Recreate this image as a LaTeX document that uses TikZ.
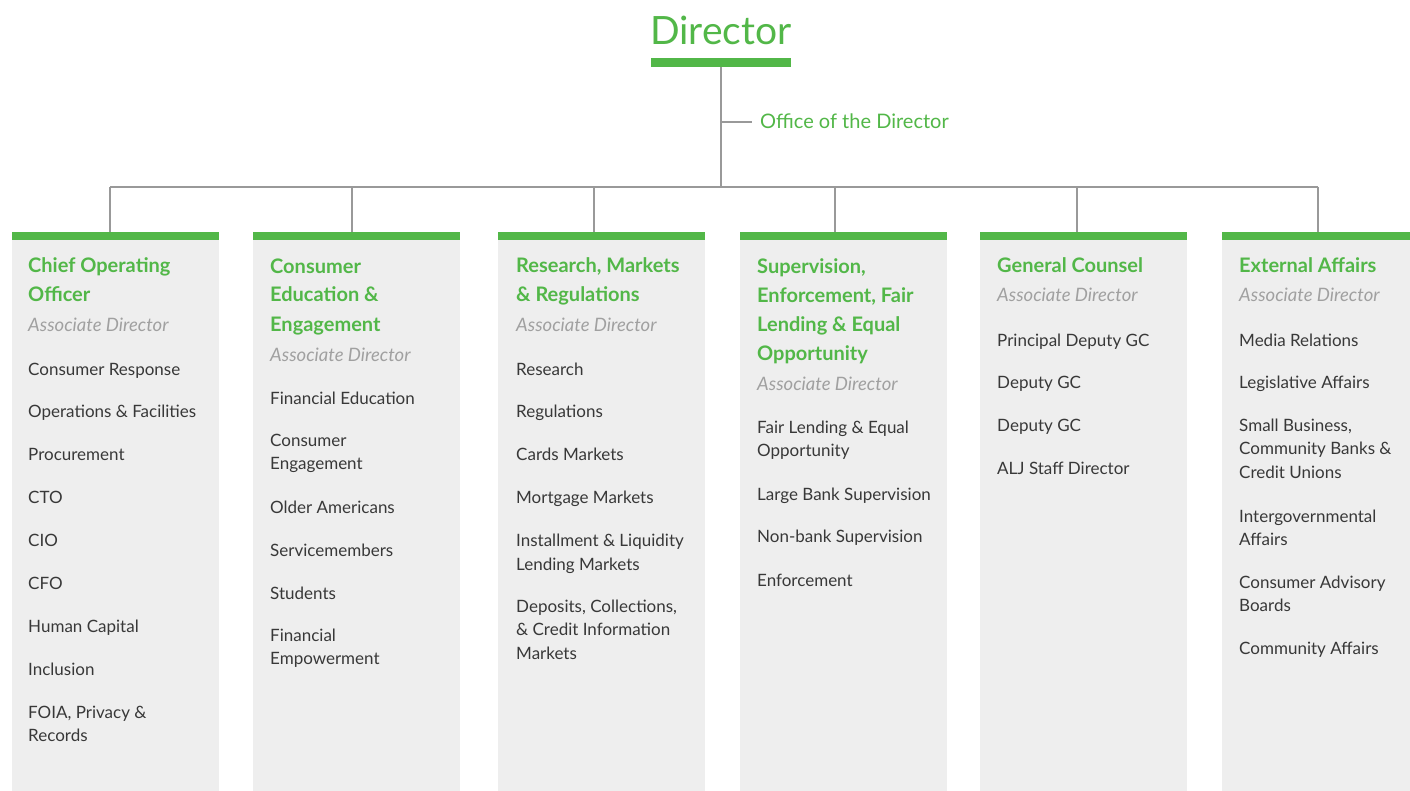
\documentclass[tikz,border=0pt]{standalone}
\usepackage{fontspec}
\setmainfont{Lato}
\definecolor{cfgreen}{HTML}{52B748}
\definecolor{panel}{HTML}{EEEEEE}
\definecolor{wire}{HTML}{999999}
\definecolor{itemtext}{HTML}{383838}
\definecolor{subtext}{HTML}{A0A0A0}
\tikzset{
  conn/.style={draw=wire, line width=1.4pt},
  colbox/.style={fill=panel, draw=none, inner sep=0pt, anchor=north west,
                 minimum width=207pt, minimum height=559pt},
  % multi-line nodes are placed by the baseline of their last line
  headtxt/.style={anchor=base west, inner sep=0pt, align=left, text=cfgreen,
                  font=\fontsize{20}{29}\selectfont\bfseries},
  subtxt/.style={anchor=base west, inner sep=0pt, text=subtext,
                 font=\fontsize{18.5}{23}\selectfont\itshape},
  itemtxt/.style={anchor=base west, inner sep=0pt, align=left, text=itemtext,
                  font=\fontsize{17}{23.5}\selectfont},
}
\begin{document}
\begin{tikzpicture}[x=1pt, y=-1pt]
\useasboundingbox (0,0) rectangle (1410,791);
\fill[white] (0,0) rectangle (1410,791);

% director heading and bar
\node[anchor=base, inner sep=0pt, text=cfgreen, font=\fontsize{39}{39}\selectfont] (dir) at (721,45) {Director};
\node[fill=cfgreen, inner sep=0pt, minimum width=140pt, minimum height=9pt, anchor=north] (dirbar) at (721,58) {};

% column panels
\node[colbox] (col1) at (12,232) {};
\node[colbox] (col2) at (253,232) {};
\node[colbox] (col3) at (498,232) {};
\node[colbox] (col4) at (740,232) {};
\node[colbox] (col5) at (980,232) {};
\node[colbox, minimum width=210pt] (col6) at (1222,232) {};
\foreach \c in {col1,col2,col3,col4,col5,col6}{
  \fill[cfgreen] (\c.north west) rectangle (\c.north east |- 0,240);
}

% connectors
\coordinate (hub) at (721,187);
\coordinate (j1) at (110,187);
\coordinate (j2) at (352,187);
\coordinate (j3) at (594,187);
\coordinate (j4) at (835,187);
\coordinate (j5) at (1077,187);
\coordinate (j6) at (1318,187);
\coordinate (tap) at (721,122);
\coordinate (tapend) at (752,122);
\node[anchor=base west, inner sep=0pt, text=cfgreen, font=\fontsize{20}{24}\selectfont] (office) at (760,129) {Office of the Director};
\draw[conn] (dirbar.south) -- (hub);
\draw[conn] (tap) -- (tapend);
\draw[conn] (j1) -- (j6);
\draw[conn] (j1) -- (j1 |- col1.north);
\draw[conn] (j2) -- (j2 |- col2.north);
\draw[conn] (j3) -- (j3 |- col3.north);
\draw[conn] (j4) -- (j4 |- col4.north);
\draw[conn] (j5) -- (j5 |- col5.north);
\draw[conn] (j6) -- (j6 |- col6.north);

% column 1
\node[headtxt] (h1) at (28,302) {Chief Operating\\Officer};
\node[subtxt] (s1) at (28,332) {Associate Director};
\node[itemtxt] (a1) at (28,375) {Consumer Response};
\node[itemtxt] (a2) at (28,417) {Operations \& Facilities};
\node[itemtxt] (a3) at (28,460) {Procurement};
\node[itemtxt] (a4) at (28,503) {CTO};
\node[itemtxt] (a5) at (28,546) {CIO};
\node[itemtxt] (a6) at (28,589) {CFO};
\node[itemtxt] (a7) at (28,632) {Human Capital};
\node[itemtxt] (a8) at (28,675) {Inclusion};
\node[itemtxt] (a9) at (28,741.5) {FOIA, Privacy \&\\Records};

% column 2
\node[headtxt] (h2) at (270,331) {Consumer\\Education \&\\Engagement};
\node[subtxt] (s2) at (270,361) {Associate Director};
\node[itemtxt] (b1) at (270,404) {Financial Education};
\node[itemtxt] (b2) at (270,469.5) {Consumer\\Engagement};
\node[itemtxt] (b3) at (270,513) {Older Americans};
\node[itemtxt] (b4) at (270,556) {Servicemembers};
\node[itemtxt] (b5) at (270,599) {Students};
\node[itemtxt] (b6) at (270,664.5) {Financial\\Empowerment};

% column 3
\node[headtxt] (h3) at (516,302) {Research, Markets\\\& Regulations};
\node[subtxt] (s3) at (516,332) {Associate Director};
\node[itemtxt] (d1) at (516,375) {Research};
\node[itemtxt] (d2) at (516,417) {Regulations};
\node[itemtxt] (d3) at (516,460) {Cards Markets};
\node[itemtxt] (d4) at (516,503) {Mortgage Markets};
\node[itemtxt] (d5) at (516,570) {Installment \& Liquidity\\Lending Markets};
\node[itemtxt] (d6) at (516,659) {Deposits, Collections,\\\& Credit Information\\Markets};

% column 4
\node[headtxt] (h4) at (757,360) {Supervision,\\Enforcement, Fair\\Lending \& Equal\\Opportunity};
\node[subtxt] (s4) at (757,390) {Associate Director};
\node[itemtxt] (e1) at (757,456.5) {Fair Lending \& Equal\\Opportunity};
\node[itemtxt] (e2) at (757,500) {Large Bank Supervision};
\node[itemtxt] (e3) at (757,542) {Non-bank Supervision};
\node[itemtxt] (e4) at (757,586) {Enforcement};

% column 5
\node[headtxt] (h5) at (997,273) {General Counsel};
\node[subtxt] (s5) at (997,302) {Associate Director};
\node[itemtxt] (f1) at (997,346) {Principal Deputy GC};
\node[itemtxt] (f2) at (997,388) {Deputy GC};
\node[itemtxt] (f3) at (997,431) {Deputy GC};
\node[itemtxt] (f4) at (997,474) {ALJ Staff Director};

% column 6
\node[headtxt] (h6) at (1239,273) {External Affairs};
\node[subtxt] (s6) at (1239,302) {Associate Director};
\node[itemtxt] (g1) at (1239,346) {Media Relations};
\node[itemtxt] (g2) at (1239,388) {Legislative Affairs};
\node[itemtxt] (g3) at (1239,478) {Small Business,\\Community Banks \&\\Credit Unions};
\node[itemtxt] (g4) at (1239,545.5) {Intergovernmental\\Affairs};
\node[itemtxt] (g5) at (1239,611.5) {Consumer Advisory\\Boards};
\node[itemtxt] (g6) at (1239,654) {Community Affairs};
\end{tikzpicture}
\end{document}
